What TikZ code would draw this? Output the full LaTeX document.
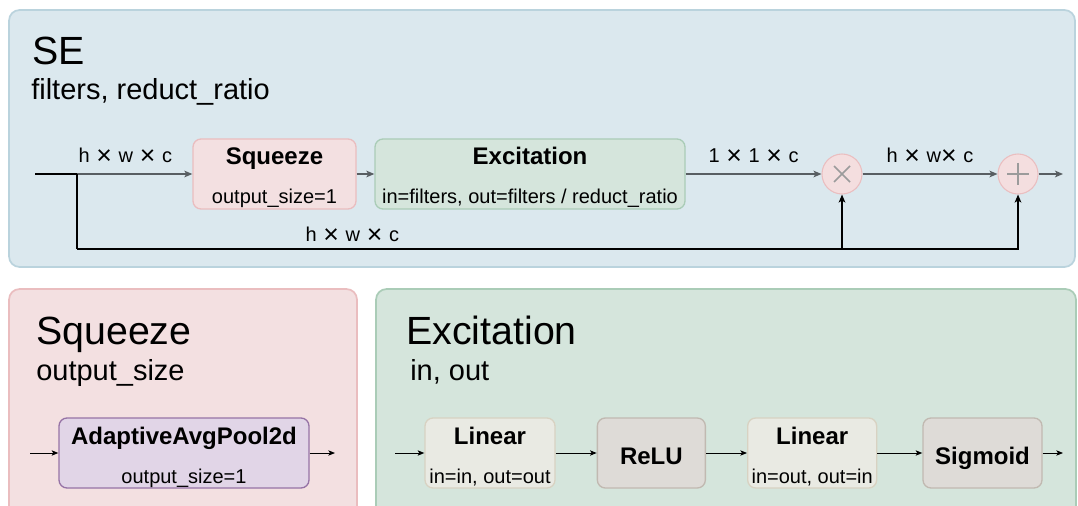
\documentclass[tikz,border=0pt]{standalone}
\usepackage{fontspec}
\setmainfont{Liberation Sans}
\usetikzlibrary{arrows.meta,positioning,calc}

\definecolor{seFill}{RGB}{219,232,238}
\definecolor{seLine}{RGB}{186,211,221}
\definecolor{sqFill}{RGB}{243,224,225}
\definecolor{sqLine}{RGB}{234,189,191}
\definecolor{exFill}{RGB}{213,229,220}
\definecolor{exLine}{RGB}{170,204,183}
\definecolor{poolFill}{RGB}{225,213,231}
\definecolor{poolLine}{RGB}{150,115,166}
\definecolor{linFill}{RGB}{233,234,227}
\definecolor{linLine}{RGB}{216,210,194}
\definecolor{actFill}{RGB}{222,219,215}
\definecolor{actLine}{RGB}{193,185,177}
\definecolor{opFill}{RGB}{244,222,223}
\definecolor{opLine}{RGB}{234,190,192}
\definecolor{symb}{RGB}{155,155,155}
\definecolor{flow}{RGB}{88,94,98}

% times sign for the tensor shapes
\newcommand{\tms}{\raisebox{-1.2pt}{\fontsize{20}{20}\selectfont ×}}
\newcommand{\xx}{\hspace{5pt}\tms\hspace{5pt}}

\begin{document}
\begin{tikzpicture}[x=0.75pt,y=-0.75pt,>={Stealth[length=6pt,width=5pt,inset=1.5pt]},
  panel/.style={draw,line width=1.3pt,rounded corners=8pt},
  blk/.style={draw,line width=1pt,rounded corners=6pt,minimum height=52.5pt,inner sep=0pt},
  op/.style={circle,draw=opLine,fill=opFill,line width=0.8pt,minimum size=30pt,inner sep=0pt},
  ttl/.style={anchor=base west,inner sep=0pt,font=\fontsize{29.5}{31}\selectfont},
  sub/.style={anchor=base west,inner sep=0pt,font=\fontsize{21.75}{24}\selectfont},
  bname/.style={anchor=base,inner sep=0pt,font=\fontsize{18}{20}\selectfont\bfseries},
  bargs/.style={anchor=base,inner sep=0pt,font=\fontsize{15}{17}\selectfont},
  dim/.style={anchor=base,inner sep=0pt,font=\fontsize{15}{17}\selectfont},
  wire/.style={draw=flow,line width=1pt},
  thin/.style={draw=black,line width=0.75pt,>={Stealth[length=5pt,width=4pt,inset=1.2pt]}}]
  \clip (0,0) rectangle (1078,506);

  % SE block
  \draw[panel,draw=seLine,fill=seFill] (9,10) rectangle (1075,267);
  \node[ttl] (setitle) at (32,65) {SE};
  \node[sub] (seargs) at (31,100) {filters, reduct\_ratio};

  \node[blk,draw=sqLine,fill=sqFill,minimum width=122.25pt] (sq) at (274.5,174) {};
  \node[bname] (sqname) at ($(sq.north)+(0,26)$) {Squeeze};
  \node[bargs] (sqargs) at ($(sq.south)+(0,-6)$) {output\_size=1};
  \node[blk,draw=exLine,fill=exFill,minimum width=232.5pt] (ex) at (530,174) {};
  \node[bname] (exname) at ($(ex.north)+(0,26)$) {Excitation};
  \node[bargs] (exargs) at ($(ex.south)+(0,-6)$) {in=filters, out=filters / reduct\_ratio};

  \node[op] (mul) at (842,174) {};
  \draw[symb,line width=1.1pt] ($(mul)+(-8,-8)$) -- ($(mul)+(8,8)$) ($(mul)+(-8,8)$) -- ($(mul)+(8,-8)$);
  \node[op] (add) at (1018,174) {};
  \draw[symb,line width=1.1pt] ($(add)+(-11,0)$) -- ($(add)+(11,0)$) ($(add)+(0,-11)$) -- ($(add)+(0,11)$);

  \coordinate (in) at (35,174);
  \coordinate (split) at (77,174);
  \coordinate (skip) at (77,249);
  \coordinate (out) at (1063,174);

  \draw[line width=1pt] (in) -- (split);
  \draw[wire,->] (split) -- node[dim,midway,yshift=8.25pt,xshift=-7pt]{h\xx w\xx c} (sq);
  \draw[wire,->] (sq) -- (ex);
  \draw[wire,->] (ex) -- node[dim,midway,yshift=8.25pt]{1\xx 1\xx c} (mul);
  \draw[wire,->] (mul) -- node[dim,midway,yshift=8.25pt]{h\xx w\tms\hspace{5pt}c} (add);
  \draw[wire,->] (add) -- (out);
  \draw[line width=1pt] (split) -- (skip);
  \draw[line width=1pt,->] (skip) -| node[dim,pos=0.18,yshift=5.25pt]{h\xx w\xx c} (mul);
  \draw[line width=1pt,->] (skip) -| (add);

  % Squeeze block
  \draw[panel,draw=sqLine,fill=sqFill] (9,289) rectangle (357,530);
  \node[ttl] (sqtitle) at (36,344) {Squeeze};
  \node[sub] (sqpar) at (36,380) {output\_size};
  \node[blk,draw=poolLine,fill=poolFill,minimum width=187.5pt] (pool) at (184,453) {};
  \node[bname] (poolname) at ($(pool.north)+(0,27)$) {AdaptiveAvgPool2d};
  \node[bargs] (poolargs) at ($(pool.south)+(0,-5)$) {output\_size=1};
  \coordinate (pin) at (30,453);
  \coordinate (pout) at (335,453);
  \draw[thin,->] (pin) -- (pool);
  \draw[thin,->] (pool) -- (pout);

  % Excitation block
  \draw[panel,draw=exLine,fill=exFill] (376,289) rectangle (1076,530);
  \node[ttl] (extitle) at (406,344) {Excitation};
  \node[sub] (expar) at (410,380) {in, out};
  \node[blk,draw=linLine,fill=linFill,minimum width=97.5pt] (lin1) at (490,453) {};
  \node[bname] (lin1name) at ($(lin1.north)+(0,27)$) {Linear};
  \node[bargs] (lin1args) at ($(lin1.south)+(0,-5)$) {in=in, out=out};
  \node[blk,draw=actLine,fill=actFill,minimum width=81pt,right=30.75pt of lin1] (relu) {};
  \node[bname] (reluname) at ($(relu.south)+(0,-24)$) {ReLU};
  \node[blk,draw=linLine,fill=linFill,minimum width=96.75pt,right=30.75pt of relu] (lin2) {};
  \node[bname] (lin2name) at ($(lin2.north)+(0,27)$) {Linear};
  \node[bargs] (lin2args) at ($(lin2.south)+(0,-5)$) {in=out, out=in};
  \node[blk,draw=actLine,fill=actFill,minimum width=89.25pt,right=33.75pt of lin2] (sig) {};
  \node[bname] (signame) at ($(sig.south)+(0,-24)$) {Sigmoid};
  \coordinate (ein) at (395,453);
  \coordinate (eout) at (1063,453);
  \draw[thin,->] (ein) -- (lin1);
  \draw[thin,->] (lin1) -- (relu);
  \draw[thin,->] (relu) -- (lin2);
  \draw[thin,->] (lin2) -- (sig);
  \draw[thin,->] (sig) -- (eout);
\end{tikzpicture}
\end{document}
